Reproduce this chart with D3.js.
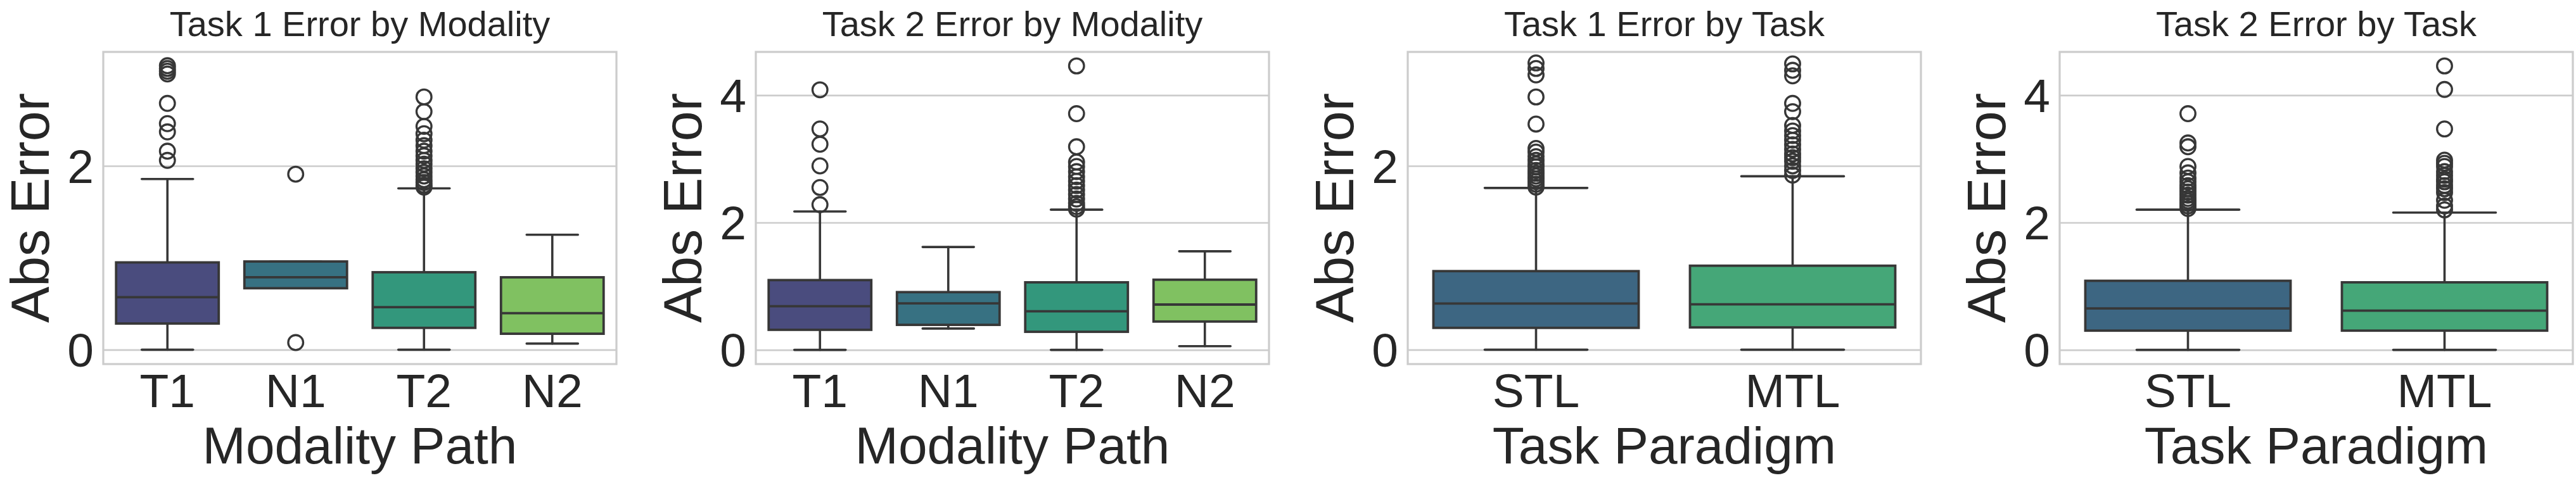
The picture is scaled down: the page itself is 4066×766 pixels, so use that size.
<!DOCTYPE html>
<html>
<head>
<meta charset="utf-8">
<script src="https://cdn.jsdelivr.net/npm/d3@7"></script>
<style>
  body { margin: 0; background: #fff; }
  text { font-family: "Liberation Sans", Arial, sans-serif; fill: #262626; }
</style>
</head>
<body>
<svg id="chart"></svg>
<script>
// categories
const modalityCats = ["T1", "N1", "T2", "N2"];
const paradigmCats = ["STL", "MTL"];

// box summaries: [whisker low, q1, median, q3, whisker high]
const t1ModalityBoxes = [
    [0.00, 0.285, 0.572, 0.950, 1.857],
    [0.669, 0.669, 0.788, 0.960, 0.960],
    [0.00, 0.238, 0.463, 0.843, 1.756],
    [0.067, 0.174, 0.397, 0.788, 1.251]
];
const t2ModalityBoxes = [
    [0.00, 0.315, 0.685, 1.096, 2.174],
    [0.335, 0.393, 0.730, 0.907, 1.616],
    [0.00, 0.284, 0.606, 1.061, 2.202],
    [0.058, 0.445, 0.712, 1.102, 1.548]
];
const t1ParadigmBoxes = [
    [0.00, 0.238, 0.503, 0.855, 1.760],
    [0.00, 0.243, 0.494, 0.914, 1.887]
];
const t2ParadigmBoxes = [
    [0.00, 0.302, 0.650, 1.085, 2.202],
    [0.00, 0.302, 0.616, 1.061, 2.157]
];

// outliers
const t1ModalityOutliers = [
    [3.09, 3.06, 3.03, 3.00, 2.68, 2.46, 2.37, 2.16, 2.06],
    [1.91, 0.078],
    [2.75, 2.59, 2.43, 2.35, 2.28, 2.22, 2.16, 2.11, 2.06, 2.02, 1.97, 1.93, 1.89, 1.85, 1.82, 1.79, 1.77],
    []
];
const t2ModalityOutliers = [
    [4.085, 3.47, 3.23, 2.89, 2.55, 2.28],
    [],
    [4.46, 3.71, 3.19, 2.95, 2.88, 2.80, 2.72, 2.65, 2.58, 2.51, 2.44, 2.37, 2.30, 2.25, 2.21],
    []
];
const t1ParadigmOutliers = [
    [3.12, 3.06, 2.99, 2.75, 2.455, 2.19, 2.15, 2.10, 2.06, 2.02, 1.99, 1.95, 1.92, 1.89, 1.86, 1.83, 1.80, 1.77],
    [3.11, 3.04, 2.98, 2.68, 2.59, 2.44, 2.38, 2.33, 2.28, 2.23, 2.18, 2.13, 2.09, 2.05, 2.00, 1.95, 1.90]
];
const t2ParadigmOutliers = [
    [3.71, 3.25, 3.19, 2.88, 2.78, 2.70, 2.64, 2.58, 2.53, 2.48, 2.43, 2.38, 2.34, 2.30, 2.26, 2.22],
    [4.46, 4.09, 3.47, 2.98, 2.93, 2.88, 2.80, 2.74, 2.68, 2.64, 2.58, 2.53, 2.47, 2.35, 2.26, 2.20]
];

const yTicksTask1 = [0, 2];
const yTicksTask2 = [0, 2, 4];

const panels = [
    { title: "Task 1 Error by Modality", xlabel: "Modality Path", cats: modalityCats, boxes: t1ModalityBoxes, outliers: t1ModalityOutliers, ticks: yTicksTask1, ymax: 3.24, ymin: -0.156 },
    { title: "Task 2 Error by Modality", xlabel: "Modality Path", cats: modalityCats, boxes: t2ModalityBoxes, outliers: t2ModalityOutliers, ticks: yTicksTask2, ymax: 4.68, ymin: -0.223 },
    { title: "Task 1 Error by Task", xlabel: "Task Paradigm", cats: paradigmCats, boxes: t1ParadigmBoxes, outliers: t1ParadigmOutliers, ticks: yTicksTask1, ymax: 3.24, ymin: -0.156 },
    { title: "Task 2 Error by Task", xlabel: "Task Paradigm", cats: paradigmCats, boxes: t2ParadigmBoxes, outliers: t2ParadigmOutliers, ticks: yTicksTask2, ymax: 4.68, ymin: -0.223 }
];

const W = 4066, H = 766;
const plot_left = [163, 1193, 2222, 3251];
const plot_w = 810;
const plot_top = 82, plot_bottom = 575;
const line_color = "#373737";
const grid_color = "#cccccc";

const svg = d3.select("#chart")
    .attr("width", W)
    .attr("height", H);

// seaborn-like palette: viridis sampled inside (0,1), desaturated to 0.75
const palette = n => d3.range(n).map(i => {
    const c = d3.hsl(d3.interpolateViridis((i + 1) / (n + 1)));
    c.s *= 0.75;
    return c.formatHex();
});

panels.forEach((p, pi) => {
    const g = svg.append("g").attr("transform", `translate(${plot_left[pi]},0)`);
    const x = d3.scaleBand().domain(p.cats).range([0, plot_w]).padding(0);
    const y = d3.scaleLinear().domain([p.ymin, p.ymax]).range([plot_bottom, plot_top]);
    const colors = palette(p.cats.length);
    const bw = x.bandwidth() * 0.8;

    // grid + y tick labels
    const yAxis = g.append("g")
        .call(d3.axisLeft(y).tickValues(p.ticks).tickSize(-plot_w).tickPadding(15).tickFormat(d3.format("d")));
    yAxis.select(".domain").remove();
    yAxis.selectAll(".tick line").attr("stroke", grid_color).attr("stroke-width", 2.6);
    yAxis.selectAll(".tick text")
        .attr("font-size", 75)
        .attr("dy", "0.35em")
        .attr("fill", "#262626");

    // frame
    g.append("rect")
        .attr("x", 0).attr("y", plot_top)
        .attr("width", plot_w).attr("height", plot_bottom - plot_top)
        .attr("fill", "none")
        .attr("stroke", grid_color)
        .attr("stroke-width", 3.2);

    // x tick labels
    const xAxis = g.append("g")
        .attr("transform", `translate(0,${plot_bottom})`)
        .call(d3.axisBottom(x).tickSize(0).tickPadding(15));
    xAxis.select(".domain").remove();
    xAxis.selectAll(".tick text").attr("font-size", 75).attr("fill", "#262626");

    // boxes
    const box = g.append("g").selectAll("g")
        .data(p.boxes)
        .enter().append("g")
        .attr("transform", (d, i) => `translate(${x(p.cats[i]) + x.bandwidth() / 2},0)`);

    box.append("line") // lower whisker
        .attr("x1", 0).attr("x2", 0)
        .attr("y1", d => y(d[0])).attr("y2", d => y(d[1]));
    box.append("line") // upper whisker
        .attr("x1", 0).attr("x2", 0)
        .attr("y1", d => y(d[3])).attr("y2", d => y(d[4]));
    box.append("line") // lower cap
        .attr("x1", -bw / 4).attr("x2", bw / 4)
        .attr("y1", d => y(d[0])).attr("y2", d => y(d[0]));
    box.append("line") // upper cap
        .attr("x1", -bw / 4).attr("x2", bw / 4)
        .attr("y1", d => y(d[4])).attr("y2", d => y(d[4]));
    box.selectAll("line")
        .attr("stroke", line_color)
        .attr("stroke-width", 3.6)
        .attr("stroke-linecap", "round");

    box.append("rect")
        .attr("x", -bw / 2)
        .attr("width", bw)
        .attr("y", d => y(d[3]))
        .attr("height", d => y(d[1]) - y(d[3]))
        .attr("fill", (d, i) => colors[i])
        .attr("stroke", line_color)
        .attr("stroke-width", 3.8);
    box.append("line") // median
        .attr("x1", -bw / 2).attr("x2", bw / 2)
        .attr("y1", d => y(d[2])).attr("y2", d => y(d[2]))
        .attr("stroke", line_color)
        .attr("stroke-width", 3.8);

    // fliers
    p.outliers.forEach((vals, i) => {
        g.append("g").selectAll("circle")
            .data(vals)
            .enter().append("circle")
            .attr("cx", x(p.cats[i]) + x.bandwidth() / 2)
            .attr("cy", d => y(d))
            .attr("r", 11.8)
            .attr("fill", "none")
            .attr("stroke", line_color)
            .attr("stroke-width", 3.3);
    });

    // title
    g.append("text")
        .attr("x", plot_w / 2)
        .attr("y", 57)
        .attr("text-anchor", "middle")
        .attr("font-size", 56)
        .text(p.title);

    // axis labels
    g.append("text")
        .attr("x", plot_w / 2)
        .attr("y", 732)
        .attr("text-anchor", "middle")
        .attr("font-size", 82)
        .text(p.xlabel);

    g.append("text")
        .attr("transform", `translate(-86,${(plot_top + plot_bottom) / 2}) rotate(-90)`)
        .attr("text-anchor", "middle")
        .attr("font-size", 86)
        .text("Abs Error");
});
</script>
</body>
</html>
